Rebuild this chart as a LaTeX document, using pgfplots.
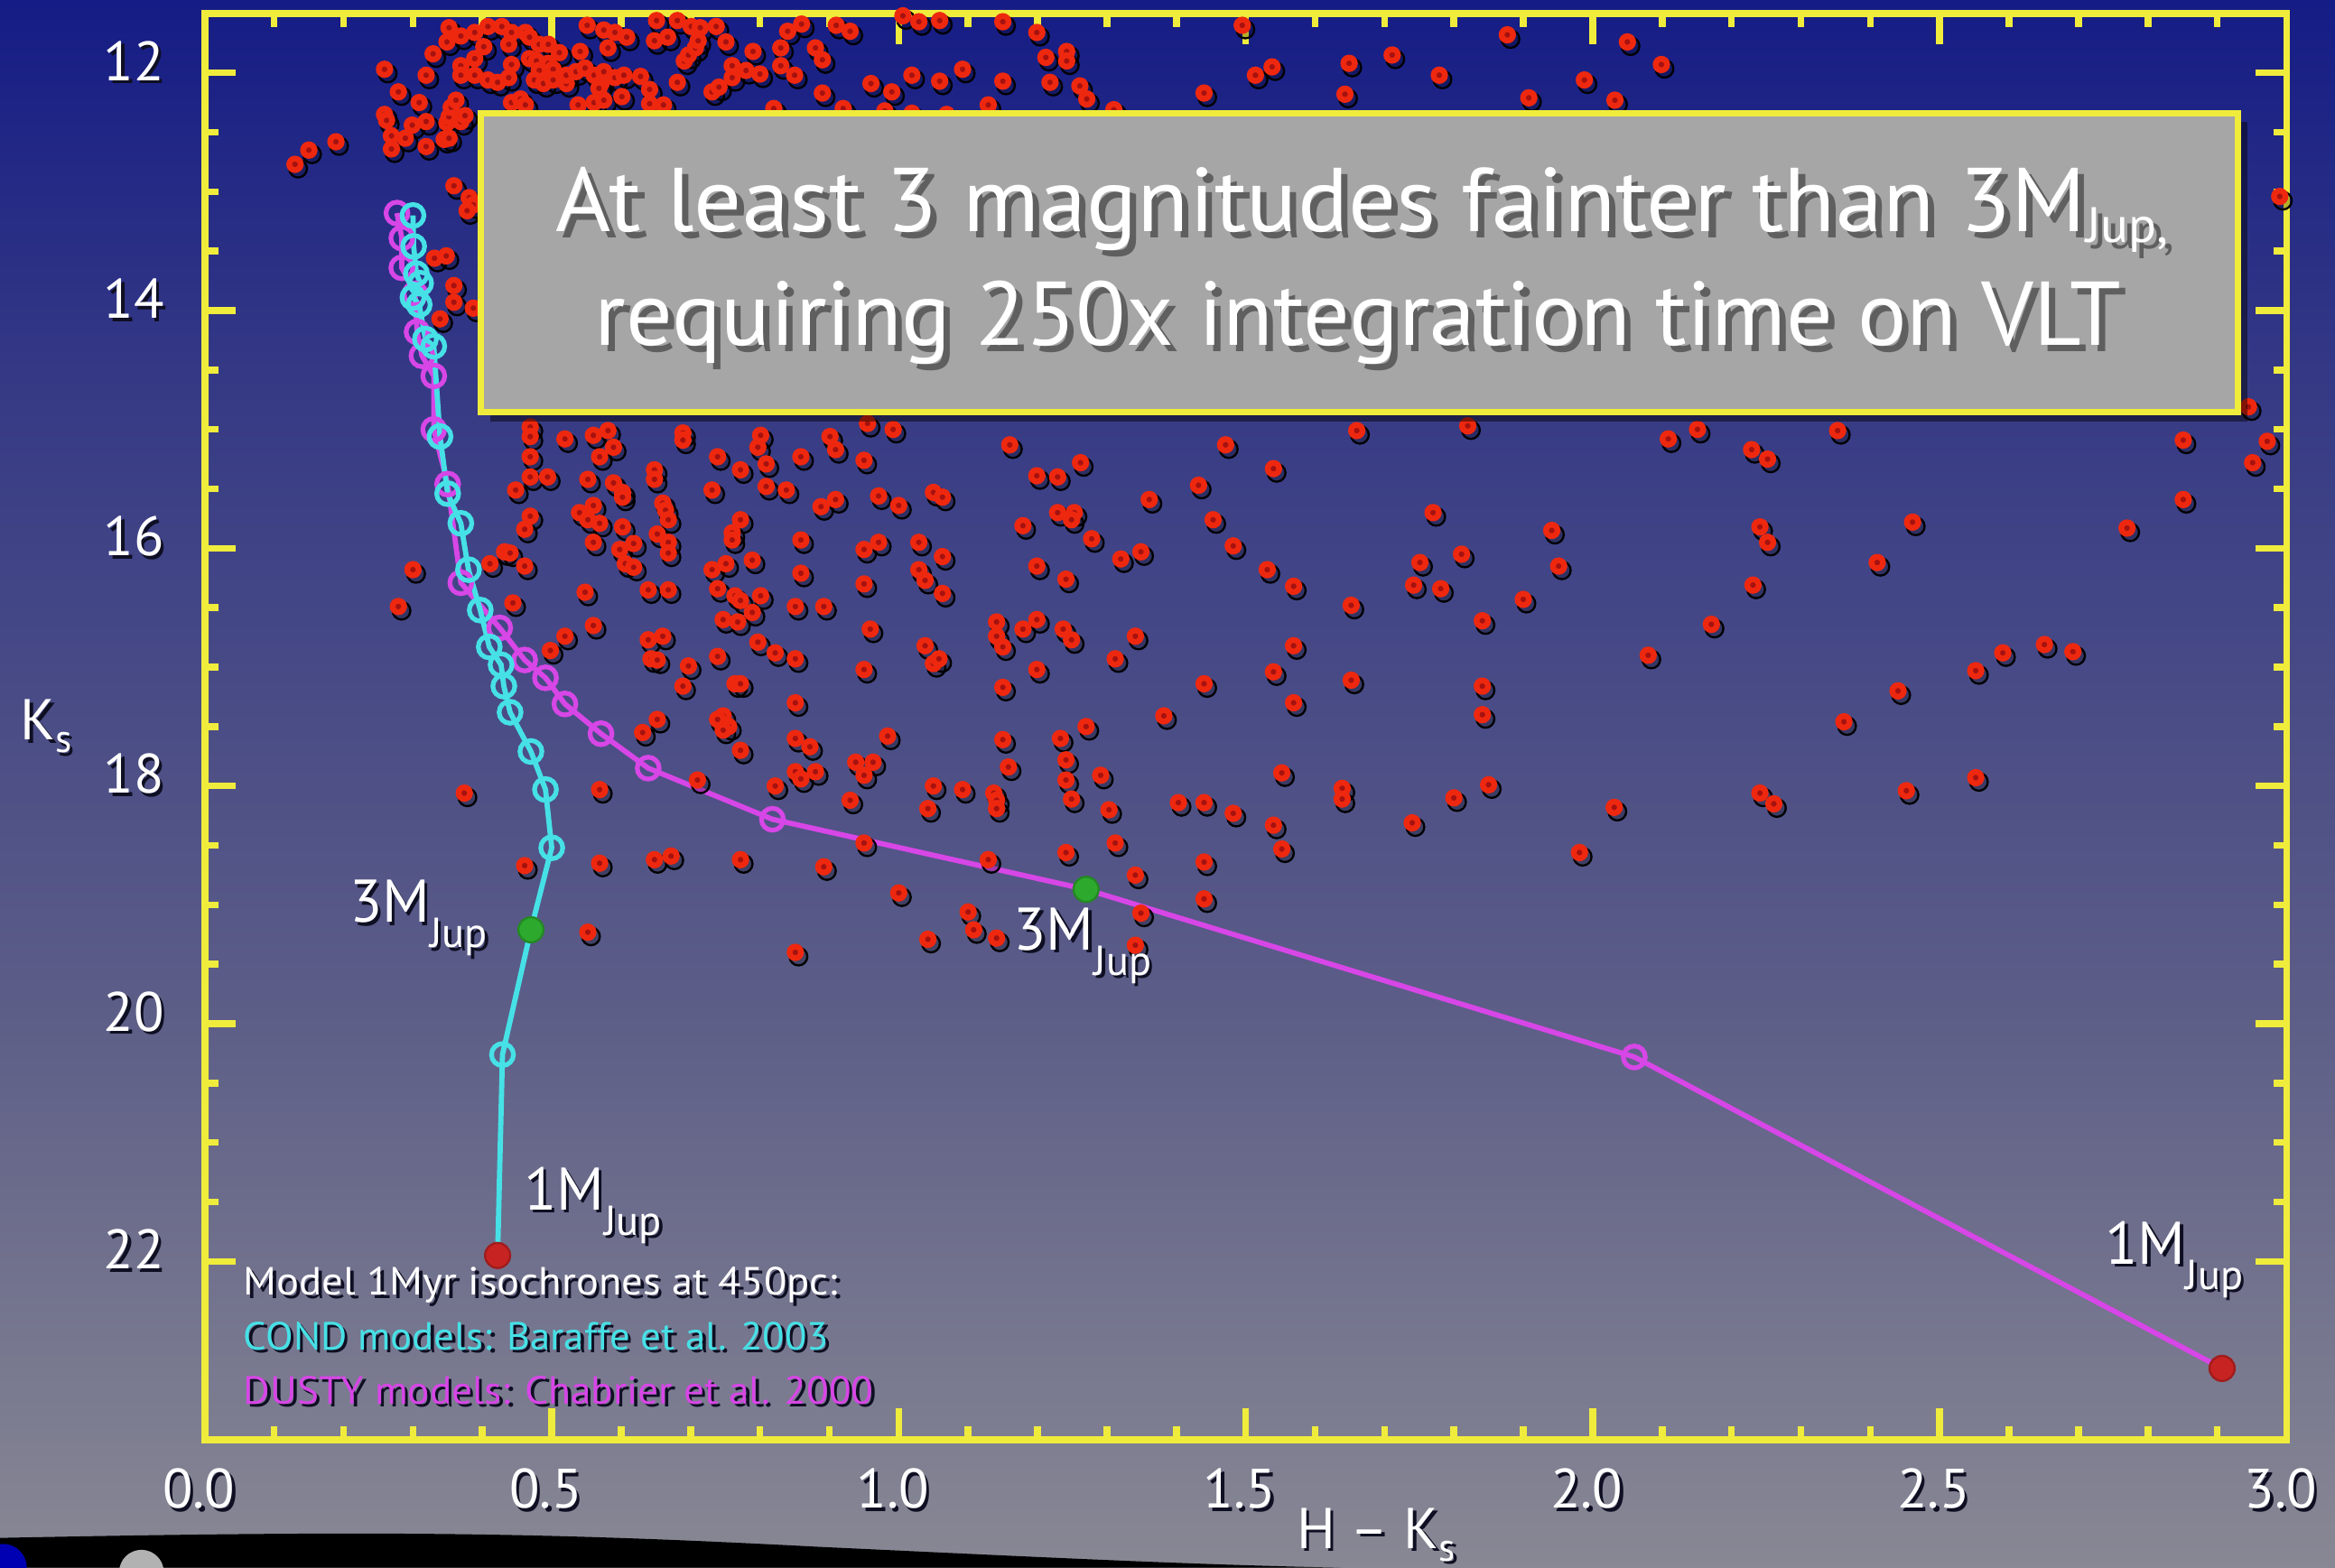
\documentclass[border=0pt]{standalone}
\usepackage{fontspec}
\setmainfont{PT Sans}
\usepackage{graphicx}
\usepackage{pgfplots}
\usepackage{pgfplotstable}
\pgfplotsset{compat=1.18}

\definecolor{bgtop}{RGB}{21,28,133}
\definecolor{bgm1}{RGB}{54,58,133}
\definecolor{bgm2}{RGB}{91,92,135}
\definecolor{bgbot}{RGB}{136,136,148}
\definecolor{frameyellow}{RGB}{240,236,60}
\definecolor{condc}{RGB}{70,225,230}
\definecolor{dustyc}{RGB}{215,70,230}
\definecolor{dotred}{RGB}{238,40,15}
\definecolor{dotdark}{RGB}{165,18,15}
\definecolor{jupgreen}{RGB}{45,170,45}
\definecolor{endred}{RGB}{200,35,35}
\definecolor{boxgray}{RGB}{166,166,166}
\definecolor{shadowc}{RGB}{15,15,35}
\definecolor{boxshadow}{RGB}{95,95,95}

\pgfdeclareverticalshading{bgshade}{100bp}{color(0bp)=(bgbot); color(25bp)=(bgbot); color(43.5bp)=(bgm2); color(62.5bp)=(bgm1); color(75bp)=(bgtop); color(100bp)=(bgtop)}

\newcommand{\shadowtext}[3]{\leavevmode\rlap{\kern#2\raisebox{-#2}{\color{#1}#3}}#3}
\newcommand{\shd}[1]{\shadowtext{shadowc}{0.6pt}{#1}}

\pgfplotstableread{
x y
0.130 12.77
0.150 12.65
0.189 12.58
0.259 11.97
0.279 12.16
0.309 12.25
0.319 12.02
0.329 11.84
0.259 12.35
0.262 12.40
0.269 12.53
0.269 12.64
0.289 12.55
0.299 12.44
0.319 12.41
0.319 12.62
0.345 12.56
0.352 12.55
0.349 12.42
0.352 12.37
0.355 12.29
0.362 12.23
0.369 12.41
0.375 12.36
0.352 11.62
0.349 11.74
0.369 11.69
0.389 11.66
0.389 11.88
0.369 11.94
0.369 12.02
0.389 12.02
0.408 12.06
0.422 12.08
0.438 12.04
0.442 11.93
0.402 11.78
0.408 11.61
0.428 11.61
0.442 11.66
0.438 11.76
0.462 11.66
0.468 11.70
0.482 11.76
0.495 11.76
0.511 11.83
0.468 11.88
0.478 11.90
0.495 11.92
0.502 11.97
0.482 11.98
0.475 12.06
0.488 12.09
0.502 12.06
0.521 12.09
0.521 12.02
0.535 11.99
0.548 11.96
0.561 12.02
0.575 11.99
0.591 12.04
0.604 12.02
0.628 12.03
0.571 12.09
0.568 12.13
0.641 12.14
0.541 11.82
0.551 11.60
0.575 11.64
0.581 11.79
0.591 11.66
0.608 11.70
0.651 11.56
0.648 11.73
0.667 11.70
0.681 11.56
0.691 11.90
0.697 11.85
0.707 11.79
0.711 11.73
0.701 11.61
0.714 11.62
0.737 11.61
0.751 11.74
0.760 11.94
0.780 11.98
0.800 12.01
0.760 12.04
0.790 11.82
0.830 11.79
0.830 11.94
0.850 12.02
0.840 11.65
0.860 11.59
0.880 11.79
0.890 11.89
0.910 11.60
0.930 11.65
0.681 12.08
0.731 12.16
0.741 12.12
0.890 12.17
0.960 12.09
0.990 12.16
1.019 12.02
1.059 12.07
1.092 11.97
1.129 12.27
1.029 11.57
1.059 11.56
1.006 11.52
0.442 12.25
0.455 12.22
0.462 12.27
0.538 12.27
0.561 12.25
0.575 12.23
0.601 12.20
0.641 12.26
0.661 12.27
0.820 12.30
0.920 12.30
0.980 12.32
1.019 12.34
1.069 12.35
0.359 12.95
0.381 13.05
0.387 13.11
0.378 13.16
0.331 13.56
0.348 13.54
0.359 13.79
0.359 13.93
0.387 13.98
0.339 14.07
1.150 11.57
1.199 11.66
1.212 11.87
1.242 11.82
1.242 11.90
1.150 12.07
1.218 12.08
1.261 12.11
1.271 12.22
1.310 12.31
1.440 12.17
1.495 11.60
1.514 12.02
1.538 11.95
1.643 12.18
1.649 11.92
1.711 11.85
1.779 12.02
1.877 11.68
1.908 12.21
1.988 12.06
2.032 12.23
2.050 11.74
2.099 11.93
2.990 13.04
0.469 14.98
0.469 15.06
0.519 15.08
0.560 15.05
0.581 15.01
0.689 15.03
0.689 15.09
0.801 15.05
0.797 15.15
0.901 15.06
0.909 15.17
0.955 14.95
0.992 15.00
1.160 15.13
1.471 15.13
0.469 15.23
0.569 15.23
0.589 15.15
0.739 15.23
0.772 15.34
0.809 15.29
0.859 15.23
0.950 15.26
1.262 15.28
1.540 15.33
0.648 15.34
0.469 15.40
0.494 15.40
0.448 15.51
0.552 15.42
0.589 15.45
0.602 15.53
0.648 15.42
0.731 15.51
0.809 15.48
0.838 15.51
1.199 15.39
1.229 15.40
1.432 15.47
0.602 15.57
0.560 15.64
0.660 15.62
0.888 15.65
0.909 15.59
0.971 15.56
1.000 15.64
1.050 15.53
1.063 15.57
1.361 15.59
0.469 15.73
0.461 15.84
0.540 15.70
0.552 15.76
0.569 15.79
0.664 15.68
0.668 15.76
0.772 15.76
0.602 15.82
1.179 15.81
1.229 15.70
1.253 15.70
1.249 15.76
1.453 15.76
0.560 15.95
0.598 16.01
0.618 15.96
0.652 15.88
0.668 15.95
0.668 16.04
0.760 15.87
0.760 15.93
0.859 15.93
0.950 16.01
0.971 15.95
1.029 15.95
1.063 16.07
1.278 15.92
1.482 15.98
0.432 16.03
0.440 16.04
1.320 16.09
1.349 16.03
0.461 16.15
0.411 16.13
0.606 16.13
0.618 16.16
0.731 16.18
0.751 16.13
0.789 16.10
0.859 16.21
0.950 16.30
1.029 16.18
1.038 16.27
1.063 16.38
1.199 16.15
1.241 16.26
1.531 16.18
1.569 16.32
0.548 16.37
0.639 16.35
0.668 16.35
0.739 16.34
0.764 16.40
0.772 16.44
0.801 16.40
0.444 16.46
0.789 16.54
0.747 16.60
0.768 16.62
0.851 16.49
0.892 16.49
1.141 16.62
1.179 16.68
1.199 16.60
1.237 16.68
1.249 16.77
0.959 16.68
1.652 16.48
0.560 16.65
0.519 16.74
1.341 16.74
0.498 16.86
0.639 16.77
0.660 16.74
0.643 16.93
0.652 16.94
0.697 16.99
0.739 16.91
0.797 16.79
0.822 16.88
0.851 16.93
1.038 16.82
1.050 16.97
1.058 16.93
1.141 16.74
1.150 16.83
1.312 16.93
1.569 16.82
0.950 17.02
1.199 17.02
1.540 17.04
0.689 17.16
0.764 17.14
0.772 17.14
1.150 17.17
1.440 17.14
0.851 17.30
1.569 17.30
1.652 17.11
0.747 17.41
0.739 17.44
0.755 17.50
0.747 17.53
0.652 17.44
0.631 17.55
1.382 17.41
1.270 17.50
0.772 17.70
0.851 17.60
0.872 17.67
0.984 17.58
1.150 17.61
1.233 17.60
0.938 17.80
0.963 17.80
0.950 17.91
0.851 17.88
0.859 17.94
0.880 17.88
0.710 17.95
0.822 18.00
1.158 17.84
1.241 17.78
1.241 17.95
1.291 17.91
1.552 17.89
1.050 18.00
1.092 18.03
1.137 18.06
1.141 18.12
1.141 18.19
0.374 18.06
0.569 18.03
1.639 18.02
1.639 18.11
0.930 18.12
1.042 18.19
1.249 18.11
1.303 18.20
1.403 18.14
1.440 18.14
1.482 18.23
1.540 18.33
0.950 18.48
1.312 18.48
1.552 18.53
0.461 18.67
0.569 18.65
0.648 18.62
0.672 18.59
0.772 18.62
0.892 18.68
1.129 18.62
1.241 18.56
1.440 18.64
1.341 18.75
1.000 18.90
1.440 18.95
1.100 19.06
1.349 19.07
0.552 19.23
1.108 19.21
1.141 19.28
1.042 19.29
1.341 19.34
0.851 19.40
1.660 15.01
1.820 14.97
2.109 15.08
2.151 15.00
2.229 15.17
2.252 15.25
2.353 15.01
2.851 15.09
2.972 15.10
2.951 15.28
2.945 14.81
2.851 15.59
1.770 15.70
1.941 15.85
2.241 15.82
2.252 15.95
2.461 15.78
2.770 15.83
1.751 16.12
1.811 16.05
1.951 16.15
2.410 16.12
1.742 16.31
1.781 16.34
2.231 16.31
1.900 16.43
1.841 16.61
2.171 16.64
2.080 16.90
2.591 16.88
2.651 16.81
2.692 16.87
2.552 17.03
1.841 17.16
2.440 17.20
1.841 17.40
2.362 17.46
1.850 17.99
1.800 18.10
1.740 18.31
2.031 18.18
2.241 18.06
2.261 18.15
2.452 18.04
2.552 17.93
1.981 18.56
0.300 16.18
0.279 16.49
}\starsdata

\pgfplotstableread{
x y
0.277 13.18
0.284 13.39
0.284 13.64
0.303 13.86
0.306 14.18
0.313 14.38
0.330 14.55
0.330 15.00
0.350 15.46
0.369 16.29
0.425 16.67
0.461 16.94
0.491 17.09
0.519 17.31
0.571 17.56
0.639 17.85
0.818 18.28
1.270 18.87
2.060 20.28
2.907 22.90
}\dustyline

\pgfplotstableread{
x y
0.277 13.18
0.284 13.39
0.284 13.64
0.303 13.86
0.306 14.18
0.313 14.38
0.330 14.55
0.330 15.00
0.350 15.46
0.369 16.29
0.425 16.67
0.461 16.94
0.491 17.09
0.519 17.31
0.571 17.56
0.639 17.85
0.818 18.28
2.060 20.28
}\dustyopen

\pgfplotstableread{
x y
0.300 13.20
0.301 13.46
0.305 13.69
0.311 13.77
0.300 13.89
0.309 13.95
0.318 14.24
0.330 14.30
0.339 15.06
0.350 15.54
0.369 15.79
0.380 16.18
0.397 16.52
0.410 16.83
0.427 16.98
0.431 17.16
0.440 17.38
0.470 17.71
0.491 18.03
0.500 18.52
0.470 19.21
0.429 20.26
0.422 21.95
}\condline

\pgfplotstableread{
x y
0.300 13.20
0.301 13.46
0.305 13.69
0.311 13.77
0.300 13.89
0.309 13.95
0.318 14.24
0.330 14.30
0.339 15.06
0.350 15.54
0.369 15.79
0.380 16.18
0.397 16.52
0.410 16.83
0.427 16.98
0.431 17.16
0.440 17.38
0.470 17.71
0.491 18.03
0.500 18.52
0.429 20.26
}\condopen

\begin{document}
\begin{tikzpicture}
\useasboundingbox (0,0) rectangle (15.68,10.53);
\clip (0,0) rectangle (15.68,10.53);
\shade[shading=bgshade] (0,0) rectangle (15.68,10.53);
% slide decoration at bottom left
\fill[black] (0,0) -- (0,0.20) .. controls (2.5,0.25) and (3.6,0.24) .. (5.5,0.14) .. controls (7,0.07) and (8,0.02) .. (9,0) -- cycle;
\fill[blue!70!black] (0.02,0.0) circle (0.16);
\fill[gray!60] (0.95,-0.03) circle (0.15);

\begin{axis}[
  at={(1.375cm,0.86cm)}, anchor=south west,
  scale only axis, width=13.98cm, height=9.58cm,
  xmin=0, xmax=3, ymin=11.5, ymax=23.5, y dir=reverse,
  clip=false,
  axis line style={frameyellow, line width=1.3pt},
  every tick/.style={frameyellow, line width=1.3pt},
  major tick length=0.21cm, minor tick length=0.09cm,
  xtick={0,0.5,1,1.5,2,2.5,3},
  xticklabels={\shd{0.0},\shd{0.5},\shd{1.0},\shd{1.5},\shd{2.0},\shd{2.5},\shd{3.0}},
  minor x tick num=4,
  ytick={12,14,16,18,20,22},
  yticklabels={\shd{12},\shd{14},\shd{16},\shd{18},\shd{20},\shd{22}},
  minor y tick num=3,
  /pgf/number format/assume math mode=true,
  ticklabel style={text=white, font=\fontsize{10.6}{12}\selectfont},
  xticklabel style={yshift=-0.07cm, xshift=-0.04cm},
  yticklabel style={xshift=-0.15cm, yshift=0.07cm},
]
% shadows of the stars
\addplot[only marks, mark=*, mark size=1.7pt,
  mark options={draw=none, fill=black, fill opacity=0.25, xshift=0.6pt, yshift=-0.8pt}]
  table[x=x,y=y] {\starsdata};
% stars
\addplot[only marks, mark=*, mark size=1.1pt,
  mark options={draw=dotred, fill=dotdark, line width=1.1pt}]
  table[x=x,y=y] {\starsdata};
% DUSTY isochrone
\addplot[dustyc, line width=1pt, mark=none] table[x=x,y=y] {\dustyline};
\addplot[only marks, mark=o, mark size=2.1pt, mark options={draw=dustyc, line width=0.9pt}] table[x=x,y=y] {\dustyopen};
% COND isochrone
\addplot[condc, line width=1pt, mark=none] table[x=x,y=y] {\condline};
\addplot[only marks, mark=o, mark size=2.1pt, mark options={draw=condc, line width=0.9pt}] table[x=x,y=y] {\condopen};
% 3 MJup points
\addplot[only marks, mark=*, mark size=2.4pt, mark options={draw=jupgreen!80!black, fill=jupgreen, line width=0.4pt}] coordinates {(0.470,19.21) (1.270,18.87)};
% 1 MJup points
\addplot[only marks, mark=*, mark size=2.4pt, mark options={draw=endred!80!black, fill=endred, line width=0.4pt}] coordinates {(0.422,21.95) (2.907,22.90)};
\end{axis}

% axis labels
\node[anchor=base west, text=white, font=\fontsize{11}{13}\selectfont, inner sep=0pt] at (0.13,5.56) {\shd{K\raisebox{-0.22em}{\fontsize{7.5}{8}\selectfont s}}};
\node[anchor=base west, text=white, font=\fontsize{11}{13}\selectfont, inner sep=0pt] at (8.70,0.13) {\shd{H -- K\raisebox{-0.22em}{\fontsize{7.5}{8}\selectfont s}}};

% mass labels
\node[anchor=base west, text=white, font=\fontsize{11.5}{13}\selectfont, inner sep=0pt] at (2.34,4.334) {\shd{3M\raisebox{-0.42em}{\fontsize{8}{9}\selectfont Jup}}};
\node[anchor=base west, text=white, font=\fontsize{11.5}{13}\selectfont, inner sep=0pt] at (6.80,4.15) {\shd{3M\raisebox{-0.42em}{\fontsize{8}{9}\selectfont Jup}}};
\node[anchor=base west, text=white, font=\fontsize{11.5}{13}\selectfont, inner sep=0pt] at (3.51,2.404) {\shd{1M\raisebox{-0.42em}{\fontsize{8}{9}\selectfont Jup}}};
\node[anchor=base west, text=white, font=\fontsize{11.5}{13}\selectfont, inner sep=0pt] at (14.13,2.04) {\shd{1M\raisebox{-0.42em}{\fontsize{8}{9}\selectfont Jup}}};

% model legend
\node[anchor=base west, text=white, font=\fontsize{7.5}{9}\selectfont, inner sep=0pt] at (1.63,1.83) {\resizebox{3.99cm}{\height}{\shd{Model 1Myr isochrones at 450pc:}}};
\node[anchor=base west, text=condc, font=\fontsize{7.5}{9}\selectfont, inner sep=0pt] at (1.63,1.464) {\resizebox{3.93cm}{\height}{\shd{COND models: Baraffe et al. 2003}}};
\node[anchor=base west, text=dustyc, font=\fontsize{7.5}{9}\selectfont, inner sep=0pt] at (1.63,1.10) {\resizebox{4.23cm}{\height}{\shd{DUSTY models: Chabrier et al. 2000}}};

% annotation box
\fill[black, opacity=0.45] (3.29,7.70) rectangle (15.09,9.71);
\filldraw[fill=boxgray, draw=frameyellow, line width=1.2pt] (3.23,7.76) rectangle (15.03,9.77);
\node[anchor=base, text=white, font=\fontsize{17.3}{20}\selectfont, inner sep=0pt] at (9.145,8.973)
  {\resizebox{10.83cm}{\height}{\shadowtext{boxshadow}{1.2pt}{At least 3 magnitudes fainter than 3M\raisebox{-0.12em}{\fontsize{9.5}{10}\selectfont Jup,}}}};
\node[anchor=base, text=white, font=\fontsize{17.3}{20}\selectfont, inner sep=0pt] at (9.12,8.21)
  {\resizebox{10.25cm}{\height}{\shadowtext{boxshadow}{1.2pt}{requiring 250x integration time on VLT}}};
\end{tikzpicture}
\end{document}
